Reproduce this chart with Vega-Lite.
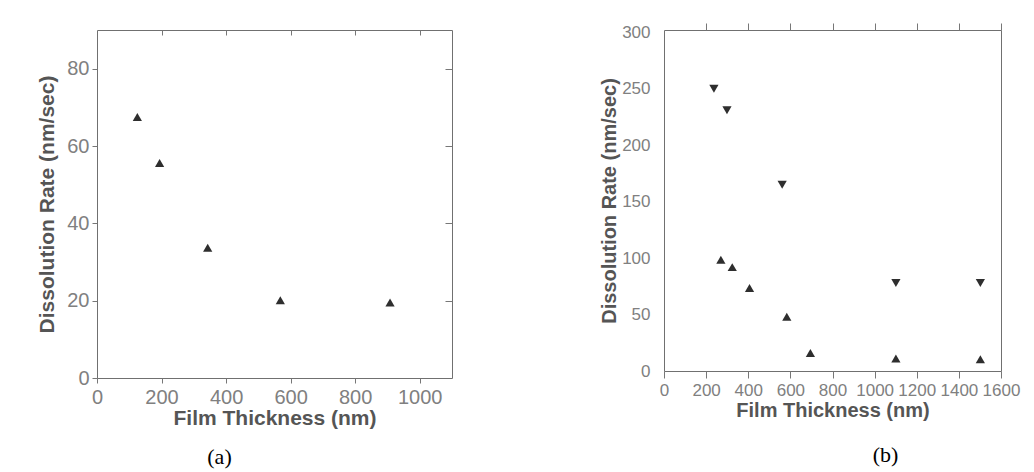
{
  "$schema": "https://vega.github.io/schema/vega-lite/v6.json",
  "background": "white",
  "padding": {"left": 36, "top": 22, "right": 5, "bottom": 5},
  "config": {
    "view": {"stroke": "#707070", "strokeWidth": 1},
    "axis": {
      "grid": false,
      "domain": false,
      "tickColor": "#777777",
      "labelFont": "Liberation Sans",
      "labelColor": "#808080",
      "labelFlush": false,
      "labelOverlap": false,
      "format": "d",
      "titleFont": "Liberation Sans",
      "titleColor": "#555555",
      "titleFontWeight": "bold"
    }
  },
  "datasets": {
    "a": [
      {"thickness": 125, "rate": 67.5},
      {"thickness": 194, "rate": 55.6},
      {"thickness": 343, "rate": 33.7},
      {"thickness": 568, "rate": 20.1},
      {"thickness": 908, "rate": 19.5}
    ],
    "b": [
      {"thickness": 237, "rate": 250, "series": "upper"},
      {"thickness": 299, "rate": 231, "series": "upper"},
      {"thickness": 561, "rate": 165, "series": "upper"},
      {"thickness": 1101, "rate": 78, "series": "upper"},
      {"thickness": 1502, "rate": 78, "series": "upper"},
      {"thickness": 270, "rate": 98.5, "series": "lower"},
      {"thickness": 324, "rate": 92, "series": "lower"},
      {"thickness": 406, "rate": 73.5, "series": "lower"},
      {"thickness": 583, "rate": 48, "series": "lower"},
      {"thickness": 695, "rate": 16, "series": "lower"},
      {"thickness": 1101, "rate": 11, "series": "lower"},
      {"thickness": 1502, "rate": 10.5, "series": "lower"}
    ]
  },
  "bounds": "flush",
  "spacing": 212,
  "hconcat": [
    {
      "width": 355,
      "height": 348,
      "title": {"text": "(a)", "orient": "bottom", "font": "Liberation Serif", "fontSize": 22, "fontWeight": "normal", "color": "black", "dx": -55, "offset": 19},
      "data": {"name": "a"},
      "layer": [
        {
          "mark": {"type": "point", "shape": "triangle-up", "filled": true, "color": "#2e2e2e", "size": 85, "opacity": 1},
          "encoding": {
            "x": {"field": "thickness", "type": "quantitative", "scale": {"domain": [0, 1100], "nice": false, "zero": false},
                  "axis": {"values": [0, 200, 400, 600, 800, 1000], "title": "Film Thickness (nm)", "labelFontSize": 20, "titleFontSize": 21, "tickSize": 5, "labelPadding": 4, "titlePadding": 0}},
            "y": {"field": "rate", "type": "quantitative", "scale": {"domain": [0, 90], "nice": false, "zero": false},
                  "axis": {"values": [0, 20, 40, 60, 80], "title": "Dissolution Rate (nm/sec)", "labelFontSize": 20, "titleFontSize": 21, "tickSize": 5, "labelPadding": 3, "titlePadding": 9}}
          }
        },
        {
          "mark": {"type": "point", "opacity": 0},
          "encoding": {
            "x": {"field": "thickness", "type": "quantitative", "axis": {"orient": "top", "values": [200, 400, 600, 800, 1000], "labels": false, "title": null, "tickSize": -5}},
            "y": {"field": "rate", "type": "quantitative", "axis": {"orient": "right", "values": [20, 40, 60, 80], "labels": false, "title": null, "tickSize": -7}}
          }
        }
      ],
      "resolve": {"axis": {"x": "independent", "y": "independent"}}
    },
    {
      "width": 337,
      "height": 341,
      "title": {"text": "(b)", "orient": "bottom", "font": "Liberation Serif", "fontSize": 22, "fontWeight": "normal", "color": "black", "dx": 53, "offset": 25},
      "data": {"name": "b"},
      "layer": [
        {
          "mark": {"type": "point", "filled": true, "color": "#2e2e2e", "size": 85, "opacity": 1},
          "encoding": {
            "x": {"field": "thickness", "type": "quantitative", "scale": {"domain": [0, 1600], "nice": false, "zero": false},
                  "axis": {"values": [0, 200, 400, 600, 800, 1000, 1200, 1400, 1600], "title": "Film Thickness (nm)", "labelFontSize": 17, "titleFontSize": 20, "tickSize": 7, "labelPadding": 4, "titlePadding": 2}},
            "y": {"field": "rate", "type": "quantitative", "scale": {"domain": [0, 302], "nice": false, "zero": false},
                  "axis": {"values": [0, 50, 100, 150, 200, 250, 300], "title": "Dissolution Rate (nm/sec)", "labelFontSize": 17, "titleFontSize": 20, "ticks": false, "labelPadding": 14, "titlePadding": 2}},
            "shape": {"field": "series", "type": "nominal", "scale": {"domain": ["upper", "lower"], "range": ["triangle-down", "triangle-up"]}, "legend": null}
          }
        },
        {
          "mark": {"type": "point", "opacity": 0},
          "encoding": {
            "x": {"field": "thickness", "type": "quantitative", "axis": {"orient": "top", "values": [200, 400, 600, 800, 1000, 1200, 1400, 1600], "labels": false, "title": null, "tickSize": 7}}
          }
        }
      ],
      "resolve": {"axis": {"x": "independent", "y": "independent"}}
    }
  ]
}
